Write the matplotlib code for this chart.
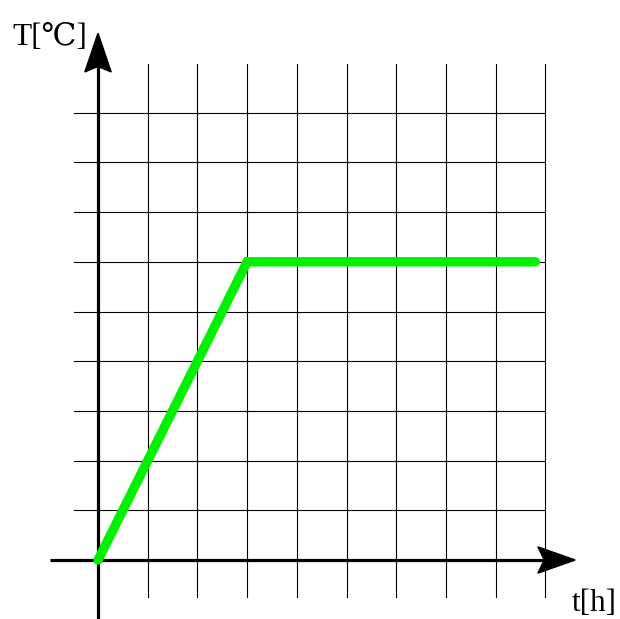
import numpy as np
import matplotlib
matplotlib.use("Agg")
import matplotlib.pyplot as plt
from matplotlib.patches import Polygon

# ------------------------------
# data: temperature vs time
# ------------------------------
t_h = [0, 3, 8.8]
temp = [0, 6, 6]

grid_x = np.arange(1, 10)
grid_y = np.arange(1, 10)

# ------------------------------
# figure, axes filling whole canvas (1 unit = 49.7 px, origin at 98,560)
# ------------------------------
unit = 49.7
ox, oy = 98, 560
W, H = 620, 619

fig = plt.figure(figsize=(W / 100, H / 100), dpi=100)
ax = fig.add_axes([0, 0, 1, 1])
ax.set_xlim(-ox / unit, (W - ox) / unit)
ax.set_ylim(-(H - oy) / unit, oy / unit)
ax.axis("off")

# grid
for gx in grid_x:
    ax.plot([gx, gx], [-0.74, 9.98], color="black", lw=0.8, zorder=1)
for gy in grid_y:
    ax.plot([-0.48, 9.0], [gy, gy], color="black", lw=0.8, zorder=1)

# axes lines
ax.plot([-0.97, 9.1], [0, 0], color="black", lw=2.3, zorder=2, solid_capstyle="butt")
ax.plot([0, 0], [-1.3, 9.95], color="black", lw=2.3, zorder=2, solid_capstyle="butt")

# arrow heads (stealth style)
hw = 0.265
ax.add_patch(Polygon([[9.6, 0], [8.85, hw], [8.98, 0], [8.85, -hw]],
                     closed=True, color="black", zorder=3))
ax.add_patch(Polygon([[0, 10.6], [hw, 9.82], [0, 9.93], [-hw, 9.82]],
                     closed=True, color="black", zorder=3))

# temperature curve
ax.plot(t_h, temp, color="#00f000", lw=6.8, solid_capstyle="round",
        solid_joinstyle="miter", zorder=4)

# labels
serif = ["Liberation Serif", "DejaVu Serif"]
ax.text((12 - ox) / unit, (oy - 45) / unit, "T[℃]", fontsize=22.5,
        family=serif, ha="left", va="baseline")
ax.text((572 - ox) / unit, (oy - 611) / unit, "t[h]", fontsize=22.5,
        family=serif, ha="left", va="baseline")

fig.savefig("out.png", dpi=100)
